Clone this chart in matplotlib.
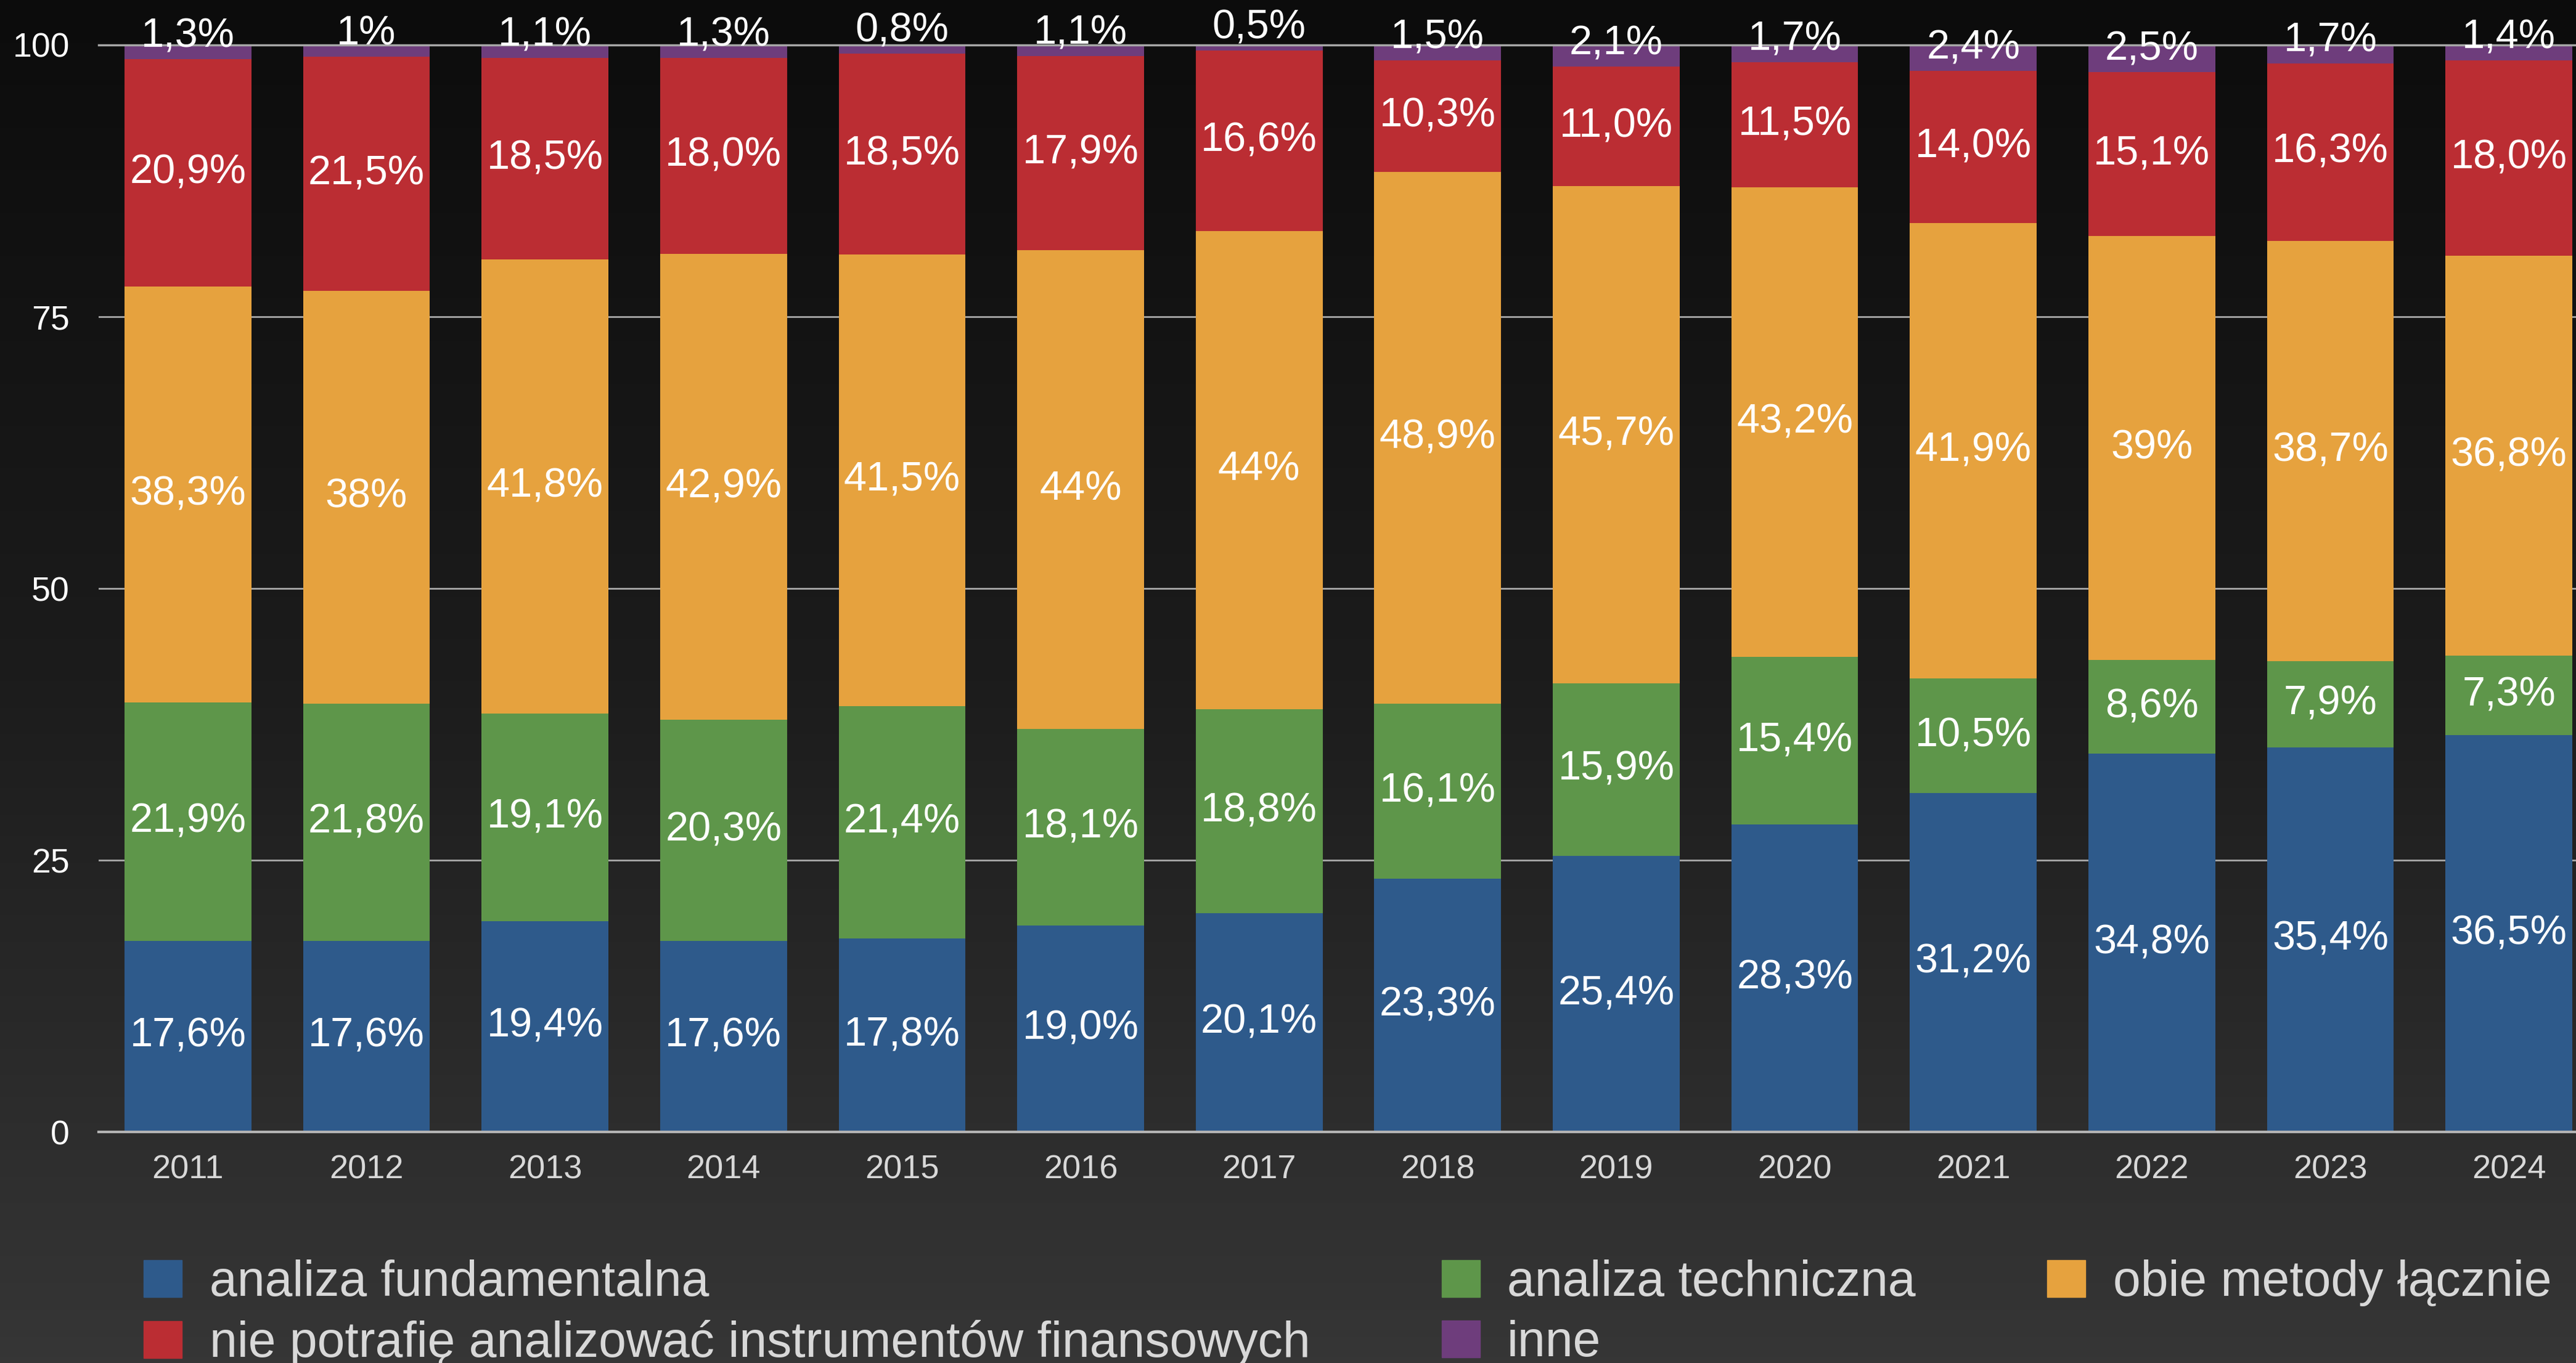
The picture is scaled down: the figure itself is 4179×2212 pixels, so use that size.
import matplotlib.pyplot as plt
import numpy as np
from matplotlib.colors import LinearSegmentedColormap
from matplotlib.patches import Patch

plt.rcParams['font.family'] = ['Liberation Sans', 'DejaVu Sans']

# data (values as printed on the chart, decimal point kept as in the source)
years = ['2011', '2012', '2013', '2014', '2015', '2016', '2017',
         '2018', '2019', '2020', '2021', '2022', '2023', '2024']
fundamentalna = ['17.6', '17.6', '19.4', '17.6', '17.8', '19.0', '20.1',
                 '23.3', '25.4', '28.3', '31.2', '34.8', '35.4', '36.5']
techniczna = ['21.9', '21.8', '19.1', '20.3', '21.4', '18.1', '18.8',
              '16.1', '15.9', '15.4', '10.5', '8.6', '7.9', '7.3']
obie = ['38.3', '38', '41.8', '42.9', '41.5', '44', '44',
        '48.9', '45.7', '43.2', '41.9', '39', '38.7', '36.8']
nie_potrafie = ['20.9', '21.5', '18.5', '18.0', '18.5', '17.9', '16.6',
                '10.3', '11.0', '11.5', '14.0', '15.1', '16.3', '18.0']
inne = ['1.3', '1', '1.1', '1.3', '0.8', '1.1', '0.5',
        '1.5', '2.1', '1.7', '2.4', '2.5', '1.7', '1.4']

series_names = ['analiza fundamentalna', 'analiza techniczna', 'obie metody łącznie',
                'nie potrafię analizować instrumentów finansowych', 'inne']
series = [fundamentalna, techniczna, obie, nie_potrafie, inne]
colors = ['#2e5a8b', '#5e964a', '#e6a23e', '#bb2d33', '#6e3d7c']


def pct(s):
    return s.replace('.', ',') + '%'


fig = plt.figure(figsize=(41.79, 22.12), dpi=100)

# gradient background
bg = fig.add_axes([0, 0, 1, 1], zorder=-10)
cmap = LinearSegmentedColormap.from_list('bg', ['#0c0c0c', '#1c1c1c', '#363636'])
bg.imshow(np.linspace(0, 1, 256).reshape(-1, 1), aspect='auto', cmap=cmap,
          extent=[0, 1, 0, 1])
bg.axis('off')

ax = fig.add_axes([0.0383, 0.1695, 0.9703, 0.7975])
ax.set_facecolor('none')

x = np.arange(len(years))
bottom = np.zeros(len(years))
for name, vals, col in zip(series_names, series, colors):
    v = np.array([float(s) for s in vals])
    ax.bar(x, v, 0.71, bottom=bottom, color=col, label=name, zorder=2)
    for i, s in enumerate(vals):
        if vals is inne:
            # small top segment: label sits above it
            ax.annotate(pct(s), (x[i], bottom[i]), xytext=(0, 14),
                        textcoords='offset points', ha='center', va='baseline',
                        color='white', fontsize=48, zorder=4)
        else:
            ax.text(x[i], bottom[i] + v[i] / 2, pct(s), ha='center', va='center',
                    color='white', fontsize=48, zorder=4)
    bottom += v

ax.set_xlim(-0.5, len(years) - 0.5)
ax.set_ylim(0, 100)
ax.set_yticks([0, 25, 50, 75, 100])
ax.set_xticks(x)
ax.set_xticklabels(years)
ax.tick_params(axis='y', length=0, pad=34, labelsize=40, labelcolor='white')
ax.tick_params(axis='x', length=0, pad=26, labelsize=39, labelcolor='#d8d8d8')
ax.yaxis.grid(True, color='#a8a8a8', linewidth=2, zorder=0)
ax.set_axisbelow(True)
for sp in ['top', 'right', 'left']:
    ax.spines[sp].set_visible(False)
ax.spines['bottom'].set_color('#b4b4b4')
ax.spines['bottom'].set_linewidth(3)
ax.spines['bottom'].set_zorder(3)
ax.axhline(100, color='#a8a8a8', linewidth=2.5, zorder=3, clip_on=False)

# legend: filled column-wise, so reorder to get the reference row layout
handles = [Patch(color=c, label=n) for n, c in zip(series_names, colors)]
order = [0, 3, 1, 4, 2]
leg = fig.legend([handles[i] for i in order], [series_names[i] for i in order],
                 ncol=3, loc='upper left', bbox_to_anchor=(0.0558, 0.0760),
                 frameon=False, fontsize=58, borderpad=0, borderaxespad=0,
                 handlelength=0.77, handleheight=0.77, handletextpad=0.55,
                 columnspacing=2.65, labelspacing=0.27)
for t in leg.get_texts():
    t.set_color('#d8d8d8')

fig.savefig('out.png', dpi=100)
